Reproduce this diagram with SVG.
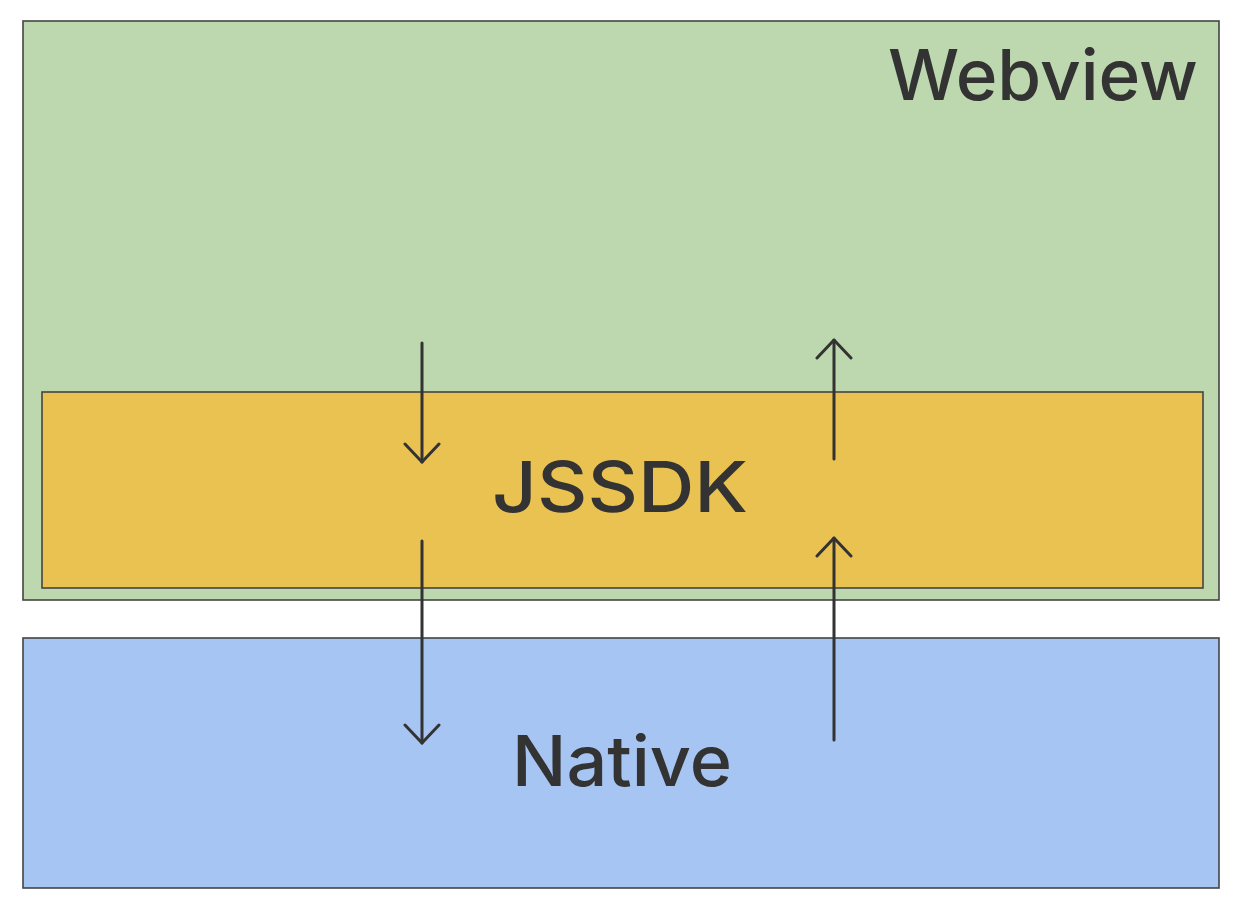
<svg xmlns="http://www.w3.org/2000/svg" width="1240" height="912" viewBox="0 0 1240 912">
<style>
.box{stroke:#444;stroke-width:1.6}
.lbl{font-family:Inter,"Noto Sans","DejaVu Sans",sans-serif;font-size:70px;fill:#333;font-weight:500}
.arr{stroke:#333;stroke-width:3;fill:none;stroke-linecap:round;stroke-linejoin:round}
</style>
<defs>
<marker id="ah" viewBox="-20 -20 40 40" markerWidth="40" markerHeight="40" refX="0" refY="0" orient="auto" markerUnits="userSpaceOnUse">
<path d="M-18,-17 L0,0 L-18,17" fill="none" stroke="#333" stroke-width="3" stroke-linecap="round" stroke-linejoin="round"/>
</marker>
</defs>
<rect width="1240" height="912" fill="#fff"/>
<g id="webview">
<rect class="box" x="23" y="21" width="1196" height="579" fill="#bdd7ae"/>
<text class="lbl" x="888" y="100" textLength="310" lengthAdjust="spacingAndGlyphs">Webview</text>
</g>
<g id="jssdk">
<rect class="box" x="42" y="392" width="1161" height="196" fill="#e9c251"/>
<text class="lbl" x="492" y="512" textLength="256" lengthAdjust="spacingAndGlyphs">JSSDK</text>
</g>
<g id="native">
<rect class="box" x="23" y="638" width="1196" height="250" fill="#a7c5f2"/>
<text class="lbl" x="512" y="786" textLength="220" lengthAdjust="spacingAndGlyphs">Native</text>
</g>
<g id="connectors">
<line class="arr" x1="422" y1="343" x2="422" y2="462" marker-end="url(#ah)"/>
<line class="arr" x1="422" y1="541" x2="422" y2="743" marker-end="url(#ah)"/>
<line class="arr" x1="834" y1="459" x2="834" y2="340" marker-end="url(#ah)"/>
<line class="arr" x1="834" y1="740" x2="834" y2="538" marker-end="url(#ah)"/>
</g>
</svg>
